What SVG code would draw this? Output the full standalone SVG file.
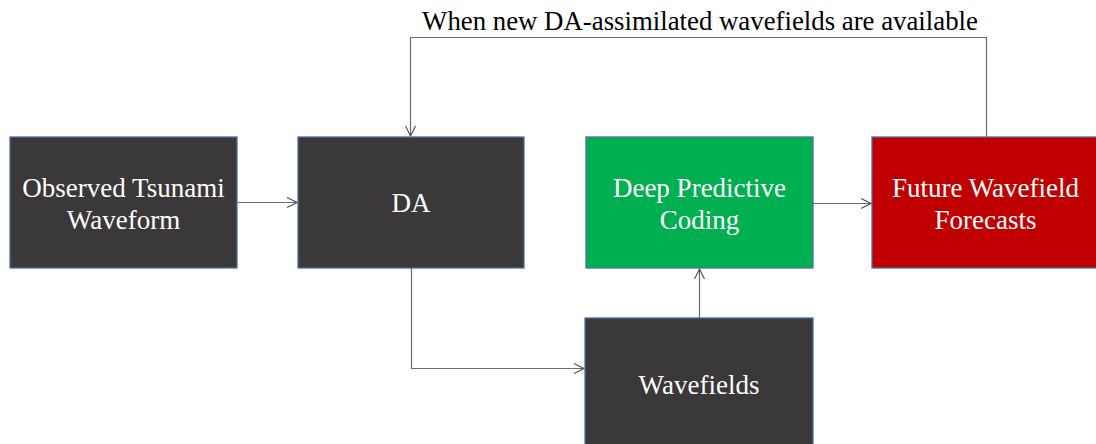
<svg xmlns="http://www.w3.org/2000/svg" width="1096" height="444" viewBox="0 0 1096 444">
<defs>
<style>
.box{stroke:#4A6FA5;stroke-width:1.3}
.dark{fill:#3A3838}
.green{fill:#00B050}
.red{fill:#C00000}
.lbl{font-family:"Liberation Serif","Times New Roman",serif;font-size:27px;fill:#FFFFFF;text-anchor:middle}
.cap{font-family:"Liberation Serif","Times New Roman",serif;font-size:26.8px;fill:#000000;text-anchor:middle}
.conn{fill:none;stroke:#6B6B6B;stroke-width:1.2}
</style>
<marker id="arr" viewBox="0 0 12 12" refX="11" refY="6" markerWidth="12" markerHeight="12" markerUnits="userSpaceOnUse" orient="auto">
<path d="M1,1 L11,6 L1,11" fill="none" stroke="#555555" stroke-width="1.2"/>
</marker>
</defs>
<rect width="1096" height="444" fill="#FFFFFF"/>
<g id="connectors">
<line class="conn" x1="237" y1="202.5" x2="297" y2="202.5" marker-end="url(#arr)"/>
<polyline class="conn" points="411.5,268 411.5,368.5 584,368.5" marker-end="url(#arr)"/>
<line class="conn" x1="699.5" y1="318" x2="699.5" y2="269" marker-end="url(#arr)"/>
<line class="conn" x1="813" y1="203.5" x2="871" y2="203.5" marker-end="url(#arr)"/>
<polyline class="conn" points="986.5,137 986.5,37.5 410.5,37.5 410.5,136" marker-end="url(#arr)"/>
<text class="cap" x="700" y="30">When new DA-assimilated wavefields are available</text>
</g>
<g id="observed">
<rect class="box dark" x="10" y="137" width="227" height="131"/>
<text class="lbl" x="123.5" y="197">Observed Tsunami</text>
<text class="lbl" x="123.5" y="229">Waveform</text>
</g>
<g id="da">
<rect class="box dark" x="298" y="137" width="226" height="131"/>
<text class="lbl" x="411" y="212">DA</text>
</g>
<g id="dpc">
<rect class="box green" x="586" y="137" width="227" height="131"/>
<text class="lbl" x="699.5" y="197">Deep Predictive</text>
<text class="lbl" x="699.5" y="229">Coding</text>
</g>
<g id="forecasts">
<rect class="box red" x="872" y="137" width="227" height="131"/>
<text class="lbl" x="985.5" y="197">Future Wavefield</text>
<text class="lbl" x="985.5" y="229">Forecasts</text>
</g>
<g id="wavefields">
<rect class="box dark" x="585" y="318" width="228" height="131"/>
<text class="lbl" x="699" y="394">Wavefields</text>
</g>
</svg>
